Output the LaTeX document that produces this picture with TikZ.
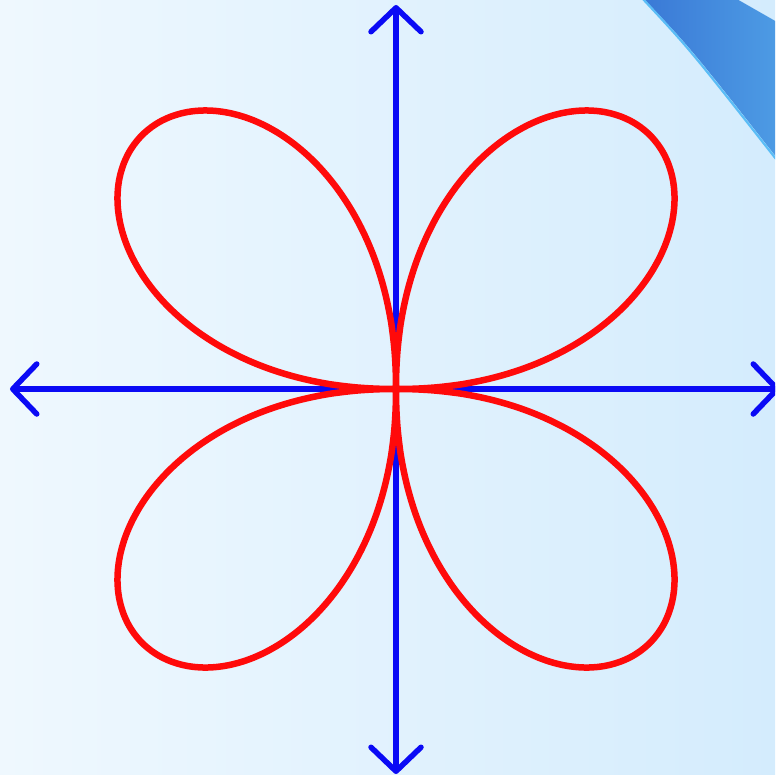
\documentclass[tikz,border=0pt]{standalone}
\usetikzlibrary{arrows.meta}
\definecolor{bgL}{HTML}{EFF8FE}
\definecolor{bgR}{HTML}{D4ECFD}
\definecolor{bandL}{HTML}{3A79D6}
\definecolor{bandR}{HTML}{4D9BE4}
\definecolor{bandEdge}{HTML}{5BBDF6}
\definecolor{axisblue}{HTML}{0A0AF5}
\definecolor{rosered}{HTML}{FF0A0A}
\tikzset{
  axisline/.style={draw=axisblue, line width=5.5bp, line cap=round,
    {Straight Barb[length=24bp, width=50bp, round]}-{Straight Barb[length=24bp, width=50bp, round]}},
  roseline/.style={draw=rosered, line width=6.5bp, line join=round},
}
\begin{document}
\begin{tikzpicture}[x=1bp, y=-1bp]
  \useasboundingbox (0,0) rectangle (775,775);
  \clip (0,0) rectangle (775,775);
  % background
  \shade[left color=bgL, right color=bgR] (0,0) rectangle (775,775);
  % decorative band in the corner
  \shade[left color=bandL, right color=bandR]
    (643,-2) .. controls (691,48.5) .. (777,158) -- (777,22) -- (735,-2) -- cycle;
  \draw[bandEdge, line width=2.2bp] (642,-2) .. controls (690,49.5) .. (776,159);
  % axes
  \coordinate (O) at (396,389);
  \coordinate (L) at (10,389);
  \coordinate (R) at (780,389);
  \coordinate (T) at (396,5);
  \coordinate (B) at (396,774);
  \draw[axisline] (L) -- (R);
  \draw[axisline] (B) -- (T);
  % four-petal rose
  \draw[roseline, shift={(O)}] plot[domain=0:360, samples=721, smooth]
    ({359*(abs(sin(2*\x)))^0.88*cos(\x)}, {359*(abs(sin(2*\x)))^0.88*sin(\x)}) -- cycle;
\end{tikzpicture}
\end{document}
